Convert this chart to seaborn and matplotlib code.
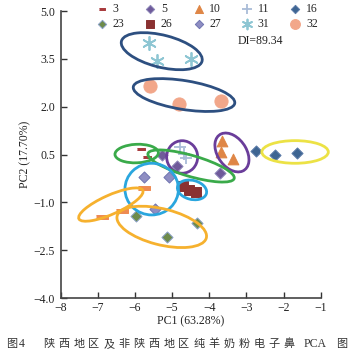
import numpy as np
import pandas as pd
import matplotlib
matplotlib.use("Agg")
import matplotlib.pyplot as plt
from matplotlib.patches import Ellipse
import seaborn as sns

# ---------------- data ----------------
g3_x = [-5.85, -5.69]
g3_y = [0.665, 0.43]
gx_x = [-5.76, -6.36, -6.90]          # unlabeled orange dashes
gx_y = [-0.56, -1.26, -1.45]
g5_x = [-5.26, -4.86, -3.71]
g5_y = [0.49, 0.14, -0.09]
g10_x = [-3.65, -3.69, -3.37]
g10_y = [0.93, 0.59, 0.35]
g11_x = [-4.79, -4.68, -4.64]
g11_y = [0.72, 0.53, 0.38]
g16_x = [-2.74, -2.23, -1.65]
g16_y = [0.62, 0.49, 0.54]
g23_x = [-5.97, -5.15, -4.34]
g23_y = [-1.43, -2.09, -1.65]
g26_x = [-4.71, -4.55, -4.36]
g26_y = [-0.49, -0.61, -0.66]
g27_x = [-5.76, -5.08, -5.45]
g27_y = [-0.19, -0.19, -1.22]
g31_x = [-5.62, -5.40, -4.49]
g31_y = [4.01, 3.44, 3.49]
g32_x = [-5.60, -4.81, -3.69]
g32_y = [2.65, 2.08, 2.18]

x_ticks = [-8, -7, -6, -5, -4, -3, -2, -1]
y_ticks = [5.0, 3.5, 2.0, 0.5, -1.0, -2.5, -4.0]
x_label = "PC1 (63.28%)"
y_label = "PC2 (17.70%)"
di_text = "DI=89.34"
caption_head = "图4"
caption_body = "陕西地区及非陕西地区纯羊奶粉电子鼻"
caption_tail = ["PCA", "图"]

# ellipses: cx, cy, width, height, angle, colour
ell_cx = [-5.28, -4.68, -1.69, -3.39, -4.73, -5.955, -4.49, -5.55, -4.465, -6.65, -5.28]
ell_cy = [3.74, 2.365, 0.58, 0.564, 0.423, 0.53, 0.14, -0.585, -0.61, -1.07, -1.77]
ell_w = [2.26, 2.78, 1.79, 1.30, 0.835, 1.17, 2.45, 1.44, 0.81, 1.94, 2.5]
ell_h = [1.0, 0.90, 0.71, 0.80, 1.02, 0.58, 0.65, 1.62, 0.59, 0.58, 1.12]
ell_a = [-17, -11, 0, -64, 0, 3, -19, 0, -20, 28, -17]
ell_c = ["#2d4f80", "#2d4f80", "#ece245", "#6a3d9a", "#6a3d9a", "#3aaa4a",
         "#3aaa4a", "#2aa6de", "#2aa6de", "#f6b12e", "#f6b12e"]

# ---------------- style ----------------
sns.set_style("ticks")
plt.rcParams["font.family"] = ["Liberation Serif", "DejaVu Serif"]
plt.rcParams["axes.unicode_minus"] = True
plt.rcParams["font.size"] = 8

fig = plt.figure(figsize=(3.53, 3.60), dpi=100)
ax = fig.add_axes([0.172, 0.1722, 0.7365, 0.7972])

dash = [(-1, -0.35), (1, -0.35), (1, 0.35), (-1, 0.35)]

series = [
    ("3", g3_x, g3_y, dash, "#a83a3c", "#a83a3c", 28),
    ("_orange", gx_x, gx_y, dash, "#ee8b52", "#ee8b52", 70),
    ("5", g5_x, g5_y, "D", "#6f5a9a", "#8c86b8", 32),
    ("10", g10_x, g10_y, "^", "#df8646", "#df8646", 60),
    ("11", g11_x, g11_y, "+", "#a9bcd8", "#a9bcd8", 80),
    ("16", g16_x, g16_y, "D", "#3e6592", "#5a7aa8", 32),
    ("23", g23_x, g23_y, "D", "#6e8b4b", "#8aa0c8", 32),
    ("26", g26_x, g26_y, "s", "#8a3131", "#8a3131", 55),
    ("27", g27_x, g27_y, "D", "#8f8ec3", "#6f74b0", 32),
    ("31", g31_x, g31_y, (6, 2, 0), "#8ec6d3", "#8ec6d3", 90),
    ("32", g32_x, g32_y, "o", "#f2a78a", "#f2a78a", 90),
]

handles = {}
for lab, xs, ys, mk, fc, ec, s in series:
    df = pd.DataFrame({"x": xs, "y": ys})
    lw = 1.3 if mk in ("+", (6, 2, 0)) else 0.7
    if mk in ("+", (6, 2, 0)):
        sns.scatterplot(data=df, x="x", y="y", marker=mk, s=s, color=fc,
                        linewidth=lw, ax=ax, zorder=3, legend=False)
    else:
        sns.scatterplot(data=df, x="x", y="y", marker=mk, s=s, color=fc,
                        edgecolor=ec, linewidth=lw, ax=ax, zorder=3, legend=False)
    handles[lab] = ax.collections[-1]

for cx, cy, w, h, a, c in zip(ell_cx, ell_cy, ell_w, ell_h, ell_a, ell_c):
    ax.add_patch(Ellipse((cx, cy), w, h, angle=a, fill=False, edgecolor=c,
                         linewidth=2.0, zorder=4, clip_on=False))

ax.text(-3.24, 4.05, di_text, ha="left", va="center", fontsize=8.5, color="#222222")

ax.set_xlim(-8, -1)
ax.set_ylim(-4.0, 5.0)
ax.set_xticks(x_ticks)
ax.set_yticks(y_ticks)
ax.set_xticklabels([f"\u2212{abs(v)}" for v in x_ticks])
ax.set_yticklabels([(f"\u2212{abs(v):.1f}" if v < 0 else f"{v:.1f}") for v in y_ticks])
ax.tick_params(direction="in", length=4, width=1.0, colors="#333333",
               labelsize=8.5, pad=4)
ax.tick_params(axis="y", labelcolor="#222222")
ax.tick_params(axis="x", labelcolor="#222222", pad=3)
for sp in ["top", "right"]:
    ax.spines[sp].set_visible(False)
for sp in ["left", "bottom"]:
    ax.spines[sp].set_linewidth(1.2)
    ax.spines[sp].set_color("#444444")
ax.set_xlabel(x_label, fontsize=8.5, labelpad=1, color="#222222")
ax.set_ylabel(y_label, fontsize=8.5, labelpad=2, color="#222222")

order = ["3", "23", "5", "26", "10", "27", "11", "31", "16", "32"]
leg = ax.legend([handles[k] for k in order], order, ncol=5, loc="upper center",
                bbox_to_anchor=(0.56, 1.045), frameon=False, fontsize=8.5,
                handletextpad=0.3, columnspacing=1.6, labelspacing=0.25,
                markerscale=0.75, handlelength=1.2, borderaxespad=0)

# caption (spaced characters)
cy_fig = 1 - 344 / 360
cjk = ["Noto Sans CJK SC", "DejaVu Sans"]
ser = ["Liberation Serif", "DejaVu Serif"]
fig.text(12 / 353, cy_fig, caption_head[0], ha="center", va="center", fontsize=8,
         family=cjk, color="#333333")
fig.text(22 / 353, cy_fig, caption_head[1], ha="center", va="center", fontsize=8.5,
         family=ser, color="#333333")
for i, ch in enumerate(caption_body):
    fig.text((49 + 15 * i) / 353, cy_fig, ch, ha="center", va="center", fontsize=8,
             family=cjk, color="#333333")
fig.text(315 / 353, cy_fig, caption_tail[0], ha="center", va="center", fontsize=8.5,
         family=ser, color="#333333")
fig.text(342 / 353, cy_fig, caption_tail[1], ha="center", va="center", fontsize=8,
         family=cjk, color="#333333")

fig.savefig("out.png", dpi=100)
